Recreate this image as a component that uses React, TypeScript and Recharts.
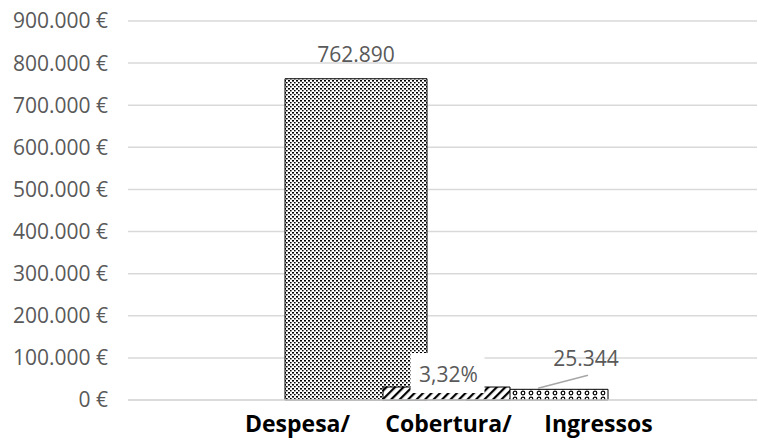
import React from 'react';
import { BarChart, Bar, XAxis, YAxis, CartesianGrid } from 'recharts';

const categories = ['Despesa/ Cobertura/ Ingressos'];
const despesa = [762890];
const cobertura = [3.32];
const ingressos = [25344];
const yTicks = [0, 100000, 200000, 300000, 400000, 500000, 600000, 700000, 800000, 900000];

const data = categories.map((c, i) => ({
  name: c,
  despesa: despesa[i],
  cobertura: cobertura[i],
  ingressos: ingressos[i],
}));

const FONT = "'Open Sans', sans-serif";
const GREY = '#595959';

const thousands = (v: number) => String(Math.round(v)).replace(/\B(?=(\d{3})+(?!\d))/g, '.');
const euro = (v: number) => `${thousands(v)} €`;

const DespesaLabel = (p: any) => {
  const cx = p.x + p.width / 2;
  return (
    <text x={cx} y={p.y - 25} textAnchor="middle" dominantBaseline="central" fill={GREY} fontSize={21} fontFamily={FONT}>
      {thousands(p.value)}
    </text>
  );
};

const CoberturaLabel = (p: any) => {
  const cx = p.x + p.width / 2;
  const top = p.y;
  return (
    <g>
      <rect x={cx - 36} y={top - 34} width={74} height={40} fill="#ffffff" />
      <text x={cx + 2} y={top - 13} textAnchor="middle" dominantBaseline="central" fill={GREY} fontSize={21} fontFamily={FONT}>
        {String(p.value).replace('.', ',')}%
      </text>
    </g>
  );
};

const IngressosLabel = (p: any) => {
  const cx = p.x + p.width / 2;
  const top = p.y;
  return (
    <g>
      <line x1={cx + 1} y1={top - 1} x2={cx + 51} y2={top - 14} stroke="#a6a6a6" strokeWidth={1.5} />
      <text x={cx + 49} y={top - 31} textAnchor="middle" dominantBaseline="central" fill={GREY} fontSize={21} fontFamily={FONT}>
        {thousands(p.value)}
      </text>
    </g>
  );
};

const CategoryTick = (p: any) => {
  const words = String(p.payload.value).split(' ');
  const offsets = [-149, 2, 152];
  return (
    <g>
      {words.map((w, i) => (
        <text key={i} x={p.x + offsets[i]} y={p.y + 32} textAnchor="middle" fill="#000" fontSize={23} fontWeight="bold" fontFamily={FONT}>
          {w}
        </text>
      ))}
    </g>
  );
};

export default function App() {
  return (
    <div style={{ position: 'absolute', left: 0, top: 0 }}>
      <BarChart
        width={758}
        height={442}
        data={data}
        margin={{ top: 21, right: 1, bottom: 0, left: 0 }}
        barGap={39}
      >
        <defs>
          <pattern id="patDespesa" width="4" height="4" patternUnits="userSpaceOnUse">
            <rect width="4" height="4" fill="#fff" />
            <rect x="0" y="0" width="2" height="1.6" fill="#000" />
            <rect x="2" y="2" width="1.6" height="1.4" fill="#000" />
          </pattern>
          <pattern id="patCobertura" width="6" height="6" patternUnits="userSpaceOnUse" patternTransform="rotate(45)">
            <rect width="6" height="6" fill="#fff" />
            <rect x="0" y="0" width="2.2" height="6" fill="#000" />
          </pattern>
          <pattern id="patIngressos" width="8" height="6" patternUnits="userSpaceOnUse">
            <rect width="8" height="6" fill="#fff" />
            <circle cx="3" cy="3" r="1.8" fill="none" stroke="#000" strokeWidth="1.2" />
          </pattern>
        </defs>
        <CartesianGrid vertical={false} stroke="#d9d9d9" strokeWidth={1.5} />
        <XAxis
          dataKey="name"
          height={42}
          padding={{ left: 8, right: 0 }}
          axisLine={{ stroke: '#d9d9d9', strokeWidth: 1.5 }}
          tickLine={false}
          tickSize={0}
          tickMargin={0}
          tick={<CategoryTick />}
        />
        <XAxis dataKey="name" xAxisId="b" hide padding={{ left: 8, right: 0 }} />
        <YAxis
          width={128}
          domain={[0, 900000]}
          ticks={yTicks}
          tickFormatter={euro}
          axisLine={false}
          tickLine={false}
          tickSize={0}
          tickMargin={20}
          tick={{ fill: GREY, fontSize: 21, fontFamily: FONT }}
        />
        <YAxis yAxisId="right" orientation="right" hide domain={[0, 97]} />
        <Bar dataKey="despesa" barSize={142} fill="url(#patDespesa)" stroke="#000" strokeWidth={1} isAnimationActive={false} label={<DespesaLabel />} />
        <Bar dataKey="ingressos" barSize={142} fill="url(#patIngressos)" stroke="#000" strokeWidth={1} isAnimationActive={false} label={<IngressosLabel />} />
        <Bar dataKey="cobertura" xAxisId="b" yAxisId="right" barSize={127} fill="url(#patCobertura)" stroke="#000" strokeWidth={1} isAnimationActive={false} label={<CoberturaLabel />} />
      </BarChart>
    </div>
  );
}
